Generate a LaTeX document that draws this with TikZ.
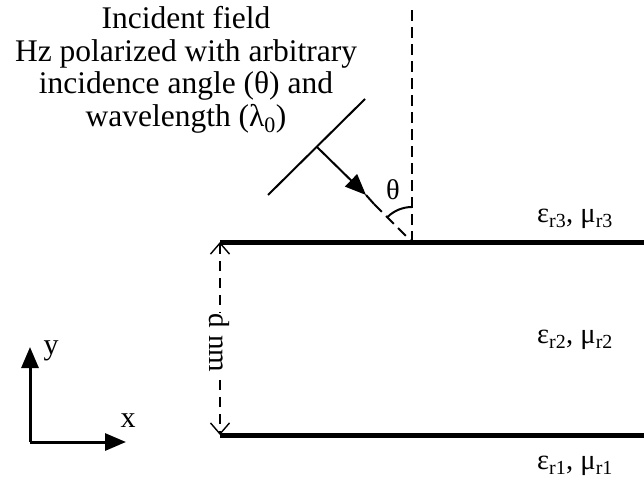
\documentclass[tikz,border=0pt]{standalone}
\usepackage{fontspec}
\setmainfont{Liberation Serif}
\usetikzlibrary{arrows.meta}

\tikzset{
    layer/.style={line width=5pt},
    medium/.style={font=\fontsize{28.5}{30}\selectfont},
    guide/.style={line width=2.1pt, dash pattern=on 11pt off 6pt},
}

\begin{document}
\begin{tikzpicture}[x=1pt, y=1pt, >={Triangle[length=21pt,width=17pt]}]
    \useasboundingbox (0,0) rectangle (644,483);

    % 1. Interfaces between the three media
    \coordinate (T1) at (220,241);
    \coordinate (T2) at (644,241);
    \coordinate (B1) at (220,48);
    \coordinate (B2) at (644,48);
    \draw[layer] (T1) -- (T2);
    \draw[layer] (B1) -- (B2);

    % 2. Normal at the point of incidence
    \coordinate (O) at (412,241);
    \coordinate (N) at (412,473);
    \draw[guide] (O) -- (N);

    % 3. Wave front and propagation direction
    \coordinate (F1) at (268,288);
    \coordinate (F2) at (365,384);
    \coordinate (W) at (317,336);
    \coordinate (K) at (366,288);
    \coordinate (S) at (374,279);
    \draw[line width=2pt] (F1) -- (F2);
    \draw[->, line width=2pt] (W) -- (K);
    \draw[line width=2pt] (K) -- (S);
    \draw[guide] (S) -- (O);

    % 4. Angle of incidence
    \draw[line width=2pt] ([yshift=35pt]O) arc (90:135:35);
    \node[medium] (th) at (393,293) {θ};

    % 5. Thickness of the middle layer
    \draw[{Straight Barb[length=11pt,width=19pt]}-{Straight Barb[length=11pt,width=19pt]}, line width=1.4pt, dash pattern=on 10pt off 7pt] (T1) -- (B1);
    \node[fill=white, inner sep=1pt, rotate=-90, font=\fontsize{29}{30}\selectfont] (d) at (219,140) {d nm};

    % 6. Material parameters
    \node[medium] (m3) at (575,264) {ε\textsubscript{r3}, μ\textsubscript{r3}};
    \node[medium] (m2) at (575,143) {ε\textsubscript{r2}, μ\textsubscript{r2}};
    \node[medium] (m1) at (575,17) {ε\textsubscript{r1}, μ\textsubscript{r1}};

    % 7. Coordinate axes
    \coordinate (A) at (30,41);
    \coordinate (AX) at (126,41);
    \coordinate (AY) at (30,136);
    \draw[->, line width=3pt] (A) -- (AX);
    \draw[->, line width=3pt] (A) -- (AY);
    \node[font=\fontsize{30}{30}\selectfont] (x) at (128,62) {x};
    \node[font=\fontsize{30}{30}\selectfont] (y) at (51,132) {y};

    % 8. Description of the incident field
    \node[align=center, font=\fontsize{31.5}{32.5}\selectfont] (inc) at (186,413)
        {Incident field\\Hz polarized with arbitrary\\incidence angle (θ) and\\wavelength (λ\textsubscript{0})};

\end{tikzpicture}
\end{document}
